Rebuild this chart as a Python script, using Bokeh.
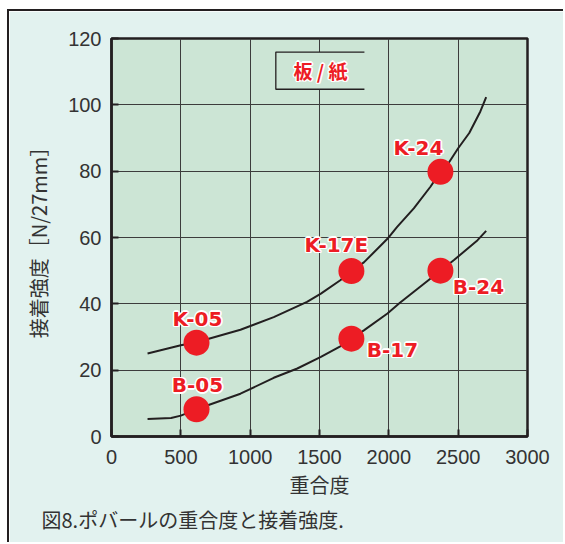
from bokeh.plotting import figure
from bokeh.models import ColumnDataSource, FixedTicker, Title
from bokeh.core.properties import value
from bokeh.embed import file_html
from bokeh.resources import INLINE

# ---------------- data ----------------
k_curve_dp = [260, 500, 613, 930, 1170, 1410, 1510, 1650, 1730, 1820, 1990, 2060, 2180, 2300, 2372, 2430, 2500, 2580, 2660, 2702]
k_curve_strength = [25.0, 27.5, 28.4, 32.2, 36.0, 40.6, 43.1, 47.1, 49.9, 52.5, 59.6, 63.2, 68.8, 75.3, 79.8, 82.4, 86.9, 91.5, 98.0, 102.3]

b_curve_dp = [260, 430, 500, 613, 930, 1170, 1340, 1510, 1650, 1730, 1820, 1990, 2080, 2372, 2470, 2640, 2702]
b_curve_strength = [5.3, 5.6, 6.3, 8.2, 12.9, 17.7, 20.5, 24.0, 27.2, 29.5, 32.0, 37.1, 40.3, 50.0, 53.2, 59.2, 62.0]

sample_names = ["K-05", "B-05", "K-17E", "B-17", "K-24", "B-24"]
sample_dp = [613, 613, 1730, 1730, 2372, 2372]
sample_strength = [28.3, 8.2, 49.9, 29.5, 79.8, 50.0]

x_ticks = [0, 500, 1000, 1500, 2000, 2500, 3000]
y_ticks = [0, 20, 40, 60, 80, 100, 120]
x_title = "重合度"
y_title = "接着強度［N/27mm］"
caption = "図8.ポバールの重合度と接着強度."
legend_text = "板 / 紙"

# ---------------- layout / style ----------------
label_dx = [1, 1, -15, 41, -22, 38]
label_dy = [-24, -24, -26, 11, -24, 16]

RED = "#ed1c24"
DARK = "#231f20"
TXT = "#333333"
PLOT_BG = "#cce5d5"
OUTER_BG = "#e2f2ef"
CJK = "Noto Sans CJK JP"

p = figure(width=556, height=533, output_backend="svg", toolbar_location=None,
           x_range=(0, 3000), y_range=(0, 120),
           min_border_left=102, min_border_right=38, min_border_top=27, min_border_bottom=108)
p.styles = {"margin-left": "7px", "margin-top": "9px",
            "border-top": f"2px solid {DARK}", "border-left": f"2px solid {DARK}"}
p.background_fill_color = PLOT_BG
p.border_fill_color = OUTER_BG
p.outline_line_color = DARK
p.outline_line_width = 2.5

p.xaxis.ticker = FixedTicker(ticks=x_ticks)
p.yaxis.ticker = FixedTicker(ticks=y_ticks)
for ax in (p.xaxis, p.yaxis):
    ax.axis_line_color = DARK
    ax.axis_line_width = 2.5
    ax.major_tick_in = 7
    ax.major_tick_out = 0
    ax.major_tick_line_color = DARK
    ax.major_tick_line_width = 2
    ax.minor_tick_line_color = None
    ax.major_label_text_font = "Liberation Sans"
    ax.major_label_text_font_size = "20px"
    ax.major_label_text_color = TXT
    ax.axis_label_text_font = CJK
    ax.axis_label_text_font_style = "normal"
    ax.axis_label_text_font_size = "20px"
    ax.axis_label_text_color = TXT
p.xaxis.major_label_standoff = 13
p.yaxis.major_label_standoff = 10
p.xaxis.axis_label = x_title
p.yaxis.axis_label = y_title
p.xaxis.axis_label_standoff = 3
p.yaxis.axis_label_standoff = 12

p.grid.grid_line_color = "#3c3c3c"
p.grid.grid_line_width = 1
p.xgrid.ticker = FixedTicker(ticks=x_ticks)
p.ygrid.ticker = FixedTicker(ticks=y_ticks)

# caption below the chart
p.add_layout(Title(text=caption, align="left", offset=-70, standoff=2,
                   text_font=CJK, text_font_size="20px", text_font_style="normal",
                   text_color=TXT), "below")

# legend-like box "板 / 紙"
bx0, bx1, by0, by1 = 1185, 1824, 104.7, 115.9
p.quad(left=bx0, right=bx1, bottom=by0, top=by1, fill_color=PLOT_BG, line_color=None)
p.line(x=[bx1, bx0, bx0, bx1], y=[by1, by1, by0, by0], line_color=DARK, line_width=1.3)

# curves
p.line(k_curve_dp, k_curve_strength, line_color=DARK, line_width=2)
p.line(b_curve_dp, b_curve_strength, line_color=DARK, line_width=2)

# sample points
src = ColumnDataSource(dict(x=sample_dp, y=sample_strength, name=sample_names))
p.scatter("x", "y", source=src, size=26, fill_color=RED, line_color=None)

halo = [(-1.5, 0), (1.5, 0), (0, -1.5), (0, 1.5), (-1.1, -1.1), (1.1, 1.1), (-1.1, 1.1), (1.1, -1.1)]


def halo_text(xs, ys, texts, dxs, dys, font, size):
    layers = [(ox, oy, "white") for ox, oy in halo] + [(0, 0, RED)]
    for ox, oy, color in layers:
        s = ColumnDataSource(dict(x=xs, y=ys, t=texts,
                                  dx=[d + ox for d in dxs], dy=[d + oy for d in dys]))
        p.text("x", "y", text="t", source=s, x_offset="dx", y_offset="dy",
               text_font=value(font), text_font_size=size, text_font_style="bold",
               text_color=color, text_align="center", text_baseline="middle")


halo_text(sample_dp, sample_strength, sample_names, label_dx, label_dy, "DejaVu Sans", "20px")
halo_text([1507], [110.4], [legend_text], [0], [0], CJK, "19px")

open("out.html", "w").write(file_html(p, INLINE))
